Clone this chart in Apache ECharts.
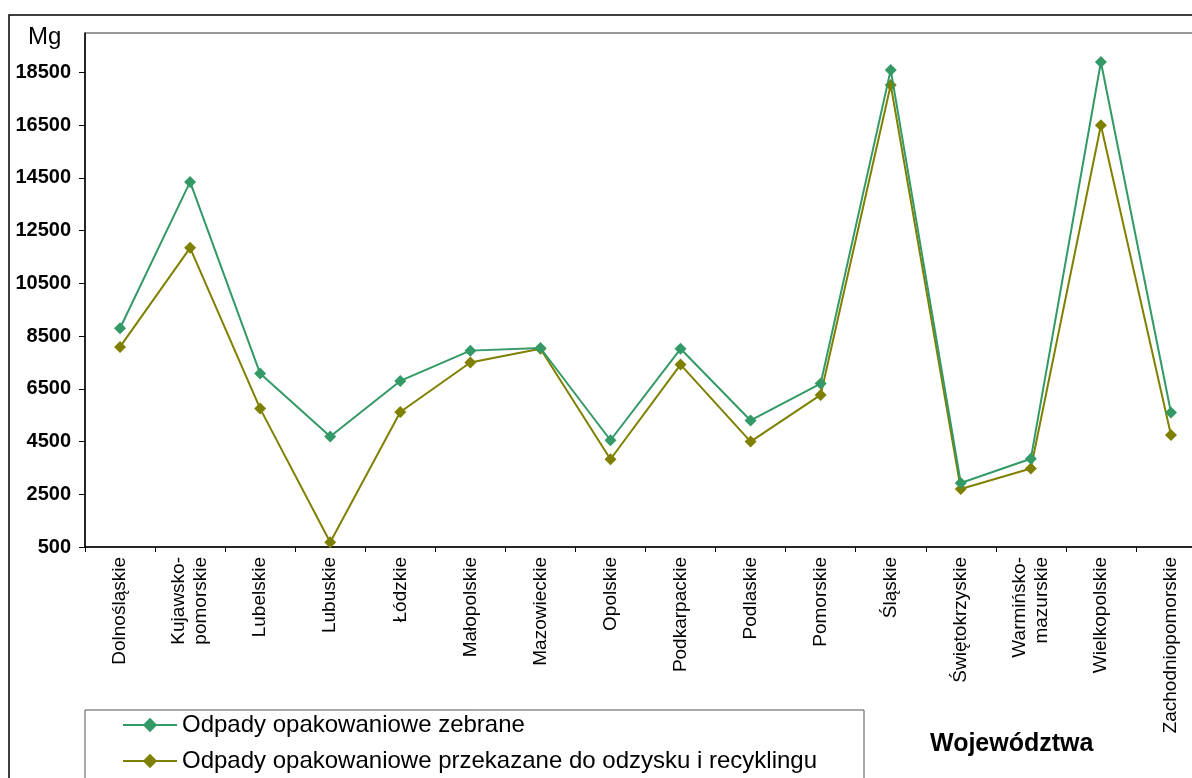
<!DOCTYPE html>
<html>
<head>
<meta charset="utf-8">
<title>Odpady opakowaniowe wg województw</title>
<script src="https://cdn.jsdelivr.net/npm/echarts@6/dist/echarts.min.js"></script>
<style>
  html, body { margin: 0; padding: 0; background: #fff; }
  #chart { width: 1192px; height: 778px; }
</style>
</head>
<body>
<div id="chart"></div>
<script>
// Województwa (category axis)
const wojewodztwa = [
  'Dolnośląskie', 'Kujawsko-\npomorskie', 'Lubelskie', 'Lubuskie', 'Łódzkie',
  'Małopolskie', 'Mazowieckie', 'Opolskie', 'Podkarpackie', 'Podlaskie',
  'Pomorskie', 'Śląskie', 'Świętokrzyskie', 'Warmińsko-\nmazurskie',
  'Wielkopolskie', 'Zachodniopomorskie'
];

// Masa odpadów [Mg]
const zebrane = [
  8800, 14350, 7080, 4690, 6800, 7950, 8050, 4550,
  8020, 5300, 6700, 18600, 2930, 3850, 18900, 5600
];
const przekazane = [
  8090, 11850, 5750, 680, 5620, 7500, 8020, 3830,
  7420, 4500, 6270, 18030, 2700, 3480, 16500, 4750
];

// Y-axis tick values
const yTicks = [500, 2500, 4500, 6500, 8500, 10500, 12500, 14500, 16500, 18500];

const seriesNames = [
  'Odpady opakowaniowe zebrane',
  'Odpady opakowaniowe przekazane do odzysku i recyklingu'
];
const colors = ['#339966', '#808000'];

const chart = echarts.init(document.getElementById('chart'), null, { renderer: 'canvas' });

chart.setOption({
  animation: false,
  backgroundColor: '#fff',
  textStyle: { fontFamily: 'Liberation Sans, Arial, sans-serif' },
  grid: {
    left: 85,
    top: 33,
    width: 1121,
    bottom: 231,
    outerBoundsMode: 'none',
    containLabel: false,
    show: true,
    borderColor: '#333',
    borderWidth: 1,
    backgroundColor: '#fff'
  },
  xAxis: {
    type: 'category',
    data: wojewodztwa,
    boundaryGap: true,
    axisLine: { lineStyle: { color: '#000', width: 1.5 } },
    axisTick: { show: true, length: 5, alignWithLabel: false, lineStyle: { color: '#000' } },
    axisLabel: {
      rotate: 90,
      interval: 0,
      margin: 10,
      color: '#000',
      fontSize: 19,
      lineHeight: 22,
      fontFamily: 'Liberation Sans, Arial, sans-serif'
    },
    splitLine: { show: false }
  },
  yAxis: {
    type: 'value',
    min: 500,
    max: 20000,
    interval: 2000,
    axisLine: { show: true, lineStyle: { color: '#000', width: 1.5 } },
    axisTick: { show: true, length: 6, customValues: yTicks, lineStyle: { color: '#000' } },
    axisLabel: {
      customValues: yTicks,
      formatter: (v) => String(v),
      color: '#000',
      fontSize: 20,
      fontWeight: 'bold',
      margin: 14,
      fontFamily: 'Liberation Sans, Arial, sans-serif'
    },
    splitLine: { show: false }
  },
  legend: {
    orient: 'vertical',
    left: 122,
    top: 712,
    padding: 0,
    itemGap: 10,
    itemWidth: 54,
    itemHeight: 18,
    textStyle: {
      color: '#000',
      fontSize: 24,
      lineHeight: 26,
      fontFamily: 'Liberation Sans, Arial, sans-serif'
    },
    data: seriesNames
  },
  graphic: [
    {
      type: 'rect',
      silent: true,
      z: -10,
      shape: { x: 9, y: 15, width: 1210, height: 800 },
      style: { fill: 'none', stroke: '#000', lineWidth: 1.5 }
    },
    {
      type: 'rect',
      silent: true,
      z: 0,
      shape: { x: 85, y: 710, width: 779, height: 100 },
      style: { fill: '#fff', stroke: '#555', lineWidth: 1 }
    },
    {
      type: 'text',
      silent: true,
      left: 28,
      top: 25,
      style: {
        text: 'Mg',
        fill: '#000',
        font: '24px "Liberation Sans", Arial, sans-serif'
      }
    },
    {
      type: 'text',
      silent: true,
      left: 930,
      top: 732,
      style: {
        text: 'Województwa',
        fill: '#000',
        font: 'bold 25px "Liberation Sans", Arial, sans-serif'
      }
    }
  ],
  series: [
    {
      name: seriesNames[0],
      type: 'line',
      data: zebrane,
      symbol: 'diamond',
      symbolSize: 12,
      color: colors[0],
      lineStyle: { color: colors[0], width: 2 },
      itemStyle: { color: colors[0] },
      z: 3
    },
    {
      name: seriesNames[1],
      type: 'line',
      data: przekazane,
      symbol: 'diamond',
      symbolSize: 12,
      color: colors[1],
      lineStyle: { color: colors[1], width: 2 },
      itemStyle: { color: colors[1] },
      z: 2
    }
  ]
});
</script>
</body>
</html>
